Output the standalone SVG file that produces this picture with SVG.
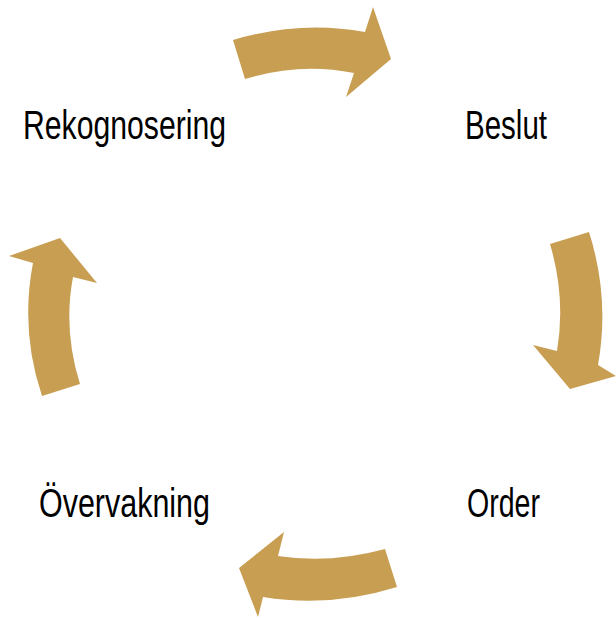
<svg xmlns="http://www.w3.org/2000/svg" width="616" height="618" viewBox="0 0 616 618">
<style>
.arrow{fill:#C89E52;stroke:none}
.lbl{font-family:"Liberation Sans",Arial,sans-serif;font-size:41px;fill:#000}
</style>
<rect width="616" height="618" fill="#fff"/>
<g id="connectors">
<path id="arrow-top" class="arrow" d="M233,40 Q300,20 365,32 L373,7 L391,59 L346,97 L354,73 Q300,62 245,79 Z"/>
<path id="arrow-right" class="arrow" d="M589,232 Q610,298 598,365 L616,376 L570,389 L533,345 L557,351 Q566,298 550,244 Z"/>
<path id="arrow-bottom" class="arrow" d="M397,587 Q330,608 263,597 L258,617 L239,568 L284,532 L278,556 Q330,564 385,549 Z"/>
<path id="arrow-left" class="arrow" d="M42,396 Q20,330 33,263 L9,256 L60,238 L97,283 L73,277 Q63,330 80,384 Z"/>
</g>
<g id="node-rekognosering"><text class="lbl" x="23" y="139" textLength="203" lengthAdjust="spacingAndGlyphs">Rekognosering</text></g>
<g id="node-beslut"><text class="lbl" x="465" y="139" textLength="82" lengthAdjust="spacingAndGlyphs">Beslut</text></g>
<g id="node-order"><text class="lbl" x="467" y="517" textLength="73" lengthAdjust="spacingAndGlyphs">Order</text></g>
<g id="node-overvakning"><text class="lbl" x="39" y="517" textLength="171" lengthAdjust="spacingAndGlyphs">Övervakning</text></g>
</svg>
